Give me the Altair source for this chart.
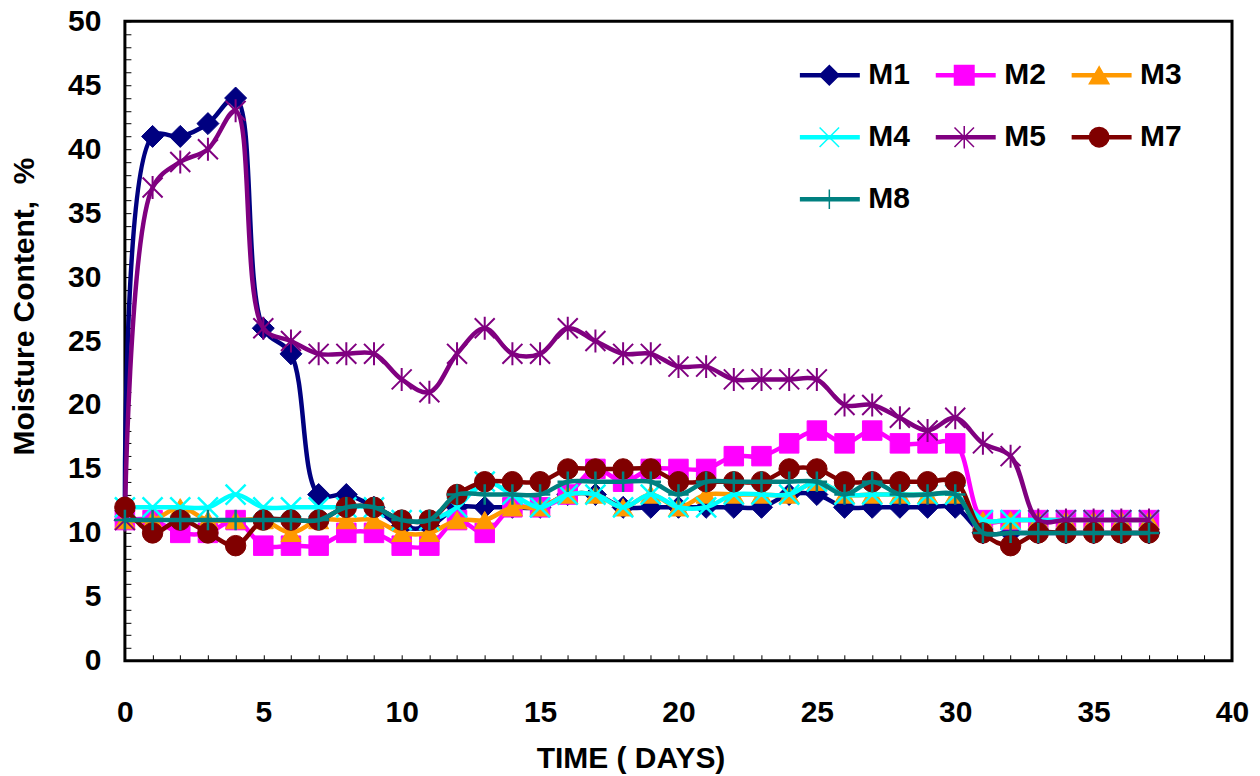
import altair as alt
import pandas as pd

days = list(range(38))
series_names = ["M1", "M2", "M3", "M4", "M5", "M7", "M8"]

m1 = [11, 41, 41, 42, 44, 26, 24, 13, 13, 12, 10.5, 10.5, 12, 12, 12, 12, 13, 13, 12, 12,
      12, 12, 12, 12, 13, 13, 12, 12, 12, 12, 12, 10, 10, 10, 10, 10, 10, 10]
m2 = [11, 11, 10, 10, 11, 9, 9, 9, 10, 10, 9, 9, 11, 10, 12, 12, 13, 15, 14, 15,
      15, 15, 16, 16, 17, 18, 17, 18, 17, 17, 17, 11, 11, 11, 11, 11, 11, 11]
m3 = [11, 11, 12, 11, 11, 11, 10, 11, 11, 11, 10, 10, 11, 11, 12, 12, 13, 13, 12, 13,
      12, 13, 13, 13, 13, 14, 13, 13, 13, 13, 13, 11, 11, 11, 11, 11, 11, 11]
m4 = [12, 12, 12, 12, 13, 12, 12, 12, 12, 12, 11, 11, 12, 14, 13, 12, 13, 13, 12, 13,
      12, 12, 13, 13, 13, 14, 13, 13, 13, 13, 13, 11, 11, 11, 11, 11, 11, 11]
m5 = [11, 37, 39, 40, 43, 26, 25, 24, 24, 24, 22, 21, 24, 26, 24, 24, 26, 25, 24, 24,
      23, 23, 22, 22, 22, 22, 20, 20, 19, 18, 19, 17, 16, 11, 11, 11, 11, 11]
m7 = [12, 10, 11, 10, 9, 11, 11, 11, 12, 12, 11, 11, 13, 14, 14, 14, 15, 15, 15, 15,
      14, 14, 14, 14, 15, 15, 14, 14, 14, 14, 14, 10, 9, 10, 10, 10, 10, 10]
m8 = [11, 11, 11, 11, 11, 11, 11, 11, 12, 12, 11, 11, 13, 13, 13, 13, 14, 14, 14, 14,
      13, 14, 14, 14, 14, 14, 13, 14, 13, 13, 13, 10, 10, 10, 10, 10, 10, 10]

all_values = [m1, m2, m3, m4, m5, m7, m8]

colors = ["#000080", "#FF00FF", "#FF9900", "#00FFFF", "#800080", "#800000", "#008080"]
shapes = [
    "diamond",
    "square",
    "triangle-up",
    "M-1,-1L1,1M-1,1L1,-1",
    "M-1,-1L1,1M-1,1L1,-1M0,-1.15L0,1.15",
    "circle",
    "M-1,0L1,0M0,-1L0,1",
]
marker_sizes = [484, 380, 400, 400, 400, 420, 420]
marker_strokes = [1, 1, 1, 2.5, 2, 1, 2.5]

rows = []
for name, vals in zip(series_names, all_values):
    for d, v in zip(days, vals):
        rows.append({"day": d, "value": v, "series": name, "mk": name})
df = pd.DataFrame(rows)

FONT = "Liberation Sans"
FS = 30

x_enc = alt.X(
    "day:Q",
    scale=alt.Scale(domain=[0, 40], nice=False, zero=False),
    axis=alt.Axis(
        values=list(range(0, 41)),
        labelExpr="datum.value % 5 === 0 ? datum.label : ''",
        tickSize=6, offset=-6, tickColor="black", tickWidth=1,
        domain=False, grid=False,
        labelFont=FONT, labelFontWeight="bold", labelFontSize=FS, labelColor="black",
        labelPadding=37, labelFlush=False, labelOverlap=False,
        title="TIME ( DAYS)", titleFont=FONT, titleFontWeight="bold", titleFontSize=FS,
        titleColor="black", titleX=506, titleY=104, titleAnchor="start",
        titleAlign="center", titleBaseline="middle",
    ),
)
y_enc = alt.Y(
    "value:Q",
    scale=alt.Scale(domain=[0, 50], nice=False),
    axis=alt.Axis(
        values=list(range(0, 51)),
        labelExpr="datum.value % 5 === 0 ? datum.label : ''",
        tickSize=6, offset=-6, tickColor="black", tickWidth=1,
        domain=False, grid=False,
        labelFont=FONT, labelFontWeight="bold", labelFontSize=FS, labelColor="black",
        labelPadding=24, labelOverlap=False,
        title="Moisture Content,\u00a0 %", titleFont=FONT, titleFontWeight="bold",
        titleFontSize=FS, titleColor="black", titleX=-106, titleY=285,
        titleAngle=270, titleAlign="center", titleBaseline="middle",
    ),
)

common_legend = dict(
    title=None, orient="none", legendX=673, legendY=39, columns=3, direction="horizontal",
    clipHeight=30, padding=0, rowPadding=32,
    labelFont=FONT, labelFontWeight="bold", labelFontSize=FS, labelColor="black",
)
line_legend = alt.Legend(
    symbolType="stroke", symbolSize=3600, symbolStrokeWidth=4.5, labelOffset=6,
    columnPadding=23, **common_legend,
)
# marker-only legend drawn over the line legend (no label text of its own)
marker_legend = alt.Legend(
    symbolSize=380, symbolStrokeWidth=1.5, symbolOffset=17, labelOffset=40,
    columnPadding=48, labelExpr="''", **common_legend,
)

line_scale = alt.Scale(domain=series_names, range=colors)
mk_color_scale = alt.Scale(range=colors)
shape_scale = alt.Scale(range=shapes)

base = alt.Chart(df)
layers = []
for i, name in enumerate(series_names):
    sub = base.transform_filter(alt.datum.series == name)
    layers.append(
        sub.mark_line(interpolate="catmull-rom", strokeWidth=4.5).encode(
            x=x_enc, y=y_enc,
            color=alt.Color("series:N", scale=line_scale, legend=line_legend),
        )
    )
    layers.append(
        sub.mark_point(filled=True, opacity=1, size=marker_sizes[i],
                       strokeWidth=marker_strokes[i]).encode(
            x=x_enc, y=y_enc,
            fill=alt.Fill("mk:N", scale=mk_color_scale, legend=marker_legend),
            stroke=alt.Stroke("mk:N", scale=mk_color_scale, legend=marker_legend),
            shape=alt.Shape("mk:N", scale=shape_scale, legend=marker_legend),
        )
    )

chart = alt.layer(*layers).properties(
    width=1108, height=640,
    autosize=alt.AutoSizeParams(type="none"),
    padding={"left": 117, "top": 13, "right": 20, "bottom": 113},
).configure(
    background="white",
    view=alt.ViewConfig(stroke="black", strokeWidth=3),
)

chart.save("out.html", embed_options={"renderer": "svg", "actions": False})
